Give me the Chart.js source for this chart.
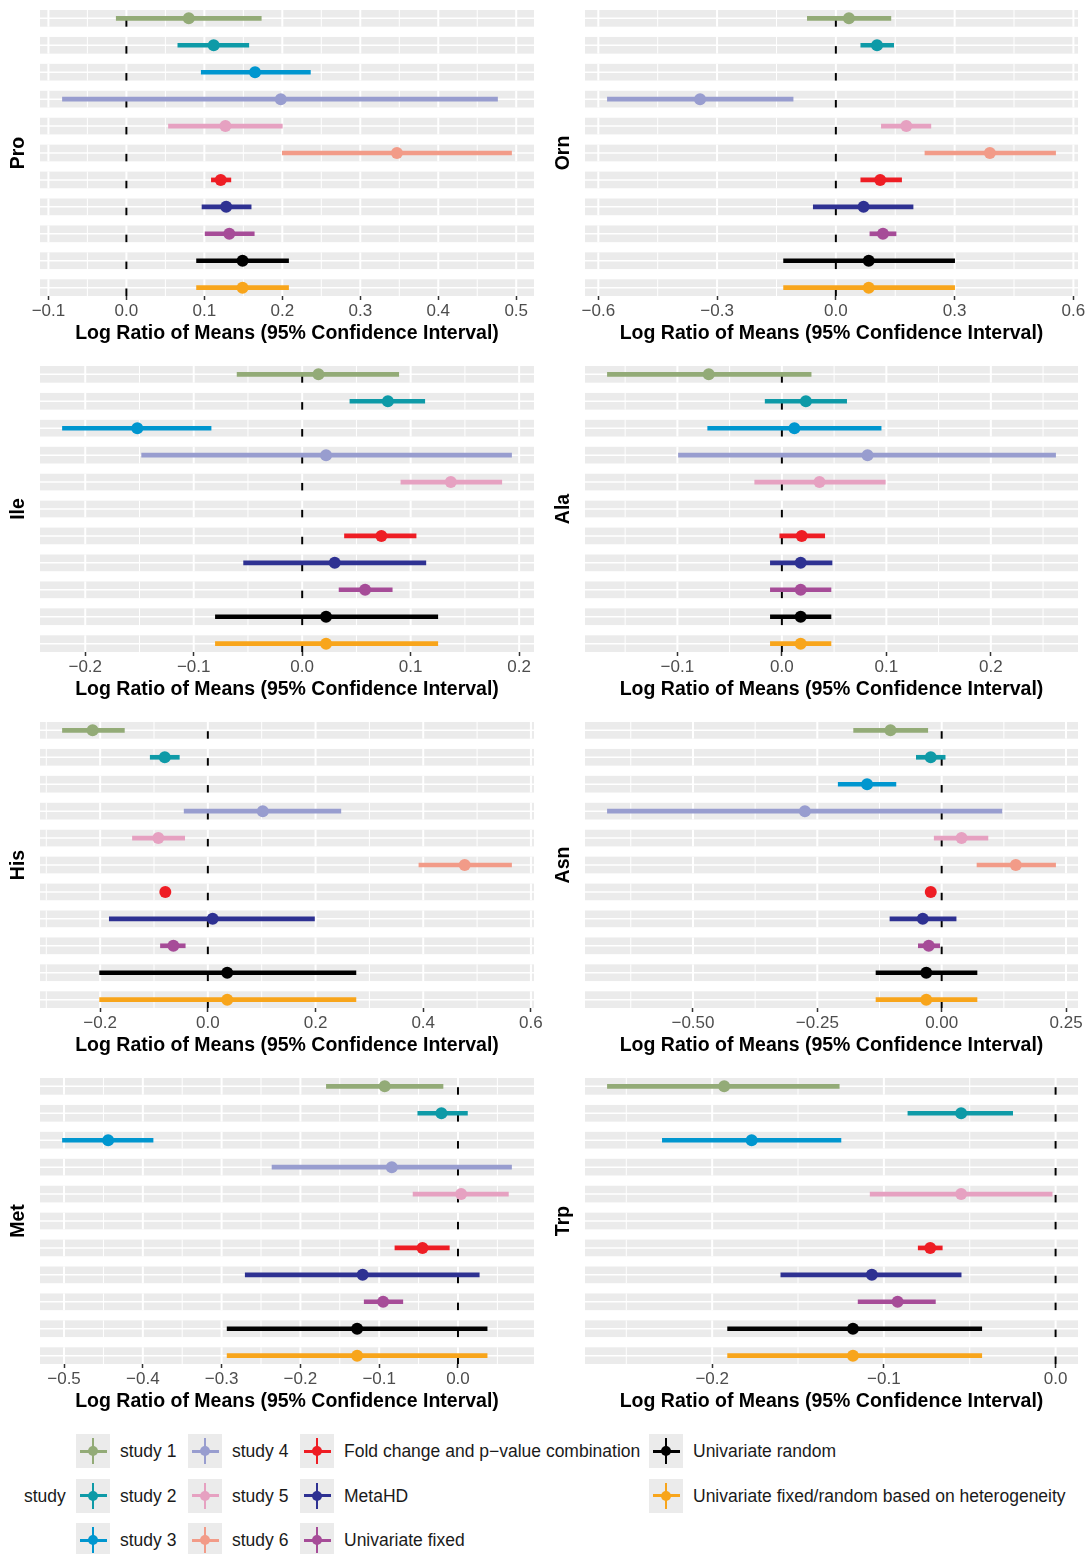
<!DOCTYPE html>
<html>
<head>
<meta charset="utf-8">
<script src="https://cdn.jsdelivr.net/npm/chart.js@4.4.1/dist/chart.umd.min.js"></script>
<style>
  body { margin: 0; background: #fff; font-family: 'Liberation Sans', Arial, sans-serif; }
  #page { position: relative; width: 1089px; height: 1554px; overflow: hidden; }
  canvas { position: absolute; }
  .lg-text { position: absolute; font-size: 17.5px; line-height: 20px; color: #1a1a1a; white-space: nowrap; }
  .lg-key { position: absolute; width: 34px; height: 34px; background: #EBEBEB; }
  .lg-key div { position: absolute; }
  .lg-key .v { left: 16px; top: 4px; width: 2px; height: 26px; }
  .lg-key .h { left: 3.5px; top: 15.5px; width: 27px; height: 3px; }
  .lg-key .d { left: 12px; top: 12px; width: 10px; height: 10px; border-radius: 50%; }
</style>
</head>
<body>
<div id="page"></div>
<script>
const methods = ['study 1', 'study 2', 'study 3', 'study 4', 'study 5', 'study 6',
  'Fold change and p\u2212value combination', 'MetaHD', 'Univariate fixed',
  'Univariate random', 'Univariate fixed/random based on heterogeneity']
const colors = ['#93AB77', '#0E9AA7', '#0096CF', '#989DCF', '#E6A1C1', '#F29B88',
  '#EE1D24', '#2E3192', '#A64C98', '#000000', '#F8A51B']

// Pro
const proLow  = [-0.013, 0.066, 0.096, -0.082, 0.054, 0.200, 0.109, 0.097, 0.101, 0.090, 0.090]
const proEst  = [0.080, 0.112, 0.165, 0.198, 0.127, 0.347, 0.121, 0.128, 0.132, 0.149, 0.149]
const proHigh = [0.173, 0.157, 0.236, 0.476, 0.200, 0.494, 0.134, 0.160, 0.164, 0.208, 0.208]
const proTicks = [-0.1, 0, 0.1, 0.2, 0.3, 0.4, 0.5]
const proLabels = ['\u22120.1', '0.0', '0.1', '0.2', '0.3', '0.4', '0.5']

// Orn
const ornLow  = [-0.072, 0.063, null, -0.577, 0.115, 0.225, 0.063, -0.057, 0.086, -0.132, -0.132]
const ornEst  = [0.033, 0.104, null, -0.343, 0.178, 0.389, 0.112, 0.070, 0.119, 0.083, 0.083]
const ornHigh = [0.139, 0.146, null, -0.108, 0.240, 0.555, 0.166, 0.195, 0.152, 0.300, 0.300]
const ornTicks = [-0.6, -0.3, 0, 0.3, 0.6]
const ornLabels = ['\u22120.6', '\u22120.3', '0.0', '0.3', '0.6']

// Ile
const ileLow  = [-0.060, 0.044, -0.221, -0.148, 0.091, null, 0.039, -0.054, 0.034, -0.080, -0.080]
const ileEst  = [0.015, 0.079, -0.152, 0.022, 0.137, null, 0.073, 0.030, 0.058, 0.022, 0.022]
const ileHigh = [0.089, 0.113, -0.084, 0.193, 0.184, null, 0.105, 0.114, 0.083, 0.125, 0.125]
const ileTicks = [-0.2, -0.1, 0, 0.1, 0.2]
const ileLabels = ['\u22120.2', '\u22120.1', '0.0', '0.1', '0.2']

// Ala
const alaLow  = [-0.167, -0.016, -0.071, -0.099, -0.026, null, -0.002, -0.011, -0.011, -0.011, -0.011]
const alaEst  = [-0.070, 0.023, 0.012, 0.082, 0.036, null, 0.019, 0.018, 0.018, 0.018, 0.018]
const alaHigh = [0.028, 0.062, 0.095, 0.262, 0.099, null, 0.041, 0.048, 0.047, 0.047, 0.047]
const alaTicks = [-0.1, 0, 0.1, 0.2]
const alaLabels = ['\u22120.1', '0.0', '0.1', '0.2']

// His
const hisLow  = [-0.270, -0.107, null, -0.044, -0.140, 0.392, null, -0.183, -0.088, -0.201, -0.201]
const hisEst  = [-0.214, -0.080, null, 0.102, -0.092, 0.477, -0.079, 0.009, -0.064, 0.036, 0.036]
const hisHigh = [-0.155, -0.053, null, 0.247, -0.043, 0.564, null, 0.198, -0.042, 0.275, 0.275]
const hisTicks = [-0.2, 0, 0.2, 0.4, 0.6]
const hisLabels = ['\u22120.2', '0.0', '0.2', '0.4', '0.6']

// Asn
const asnLow  = [-0.177, -0.051, -0.208, -0.672, -0.015, 0.071, null, -0.104, -0.047, -0.132, -0.132]
const asnEst  = [-0.103, -0.022, -0.150, -0.275, 0.040, 0.149, -0.022, -0.038, -0.026, -0.031, -0.031]
const asnHigh = [-0.028, 0.007, -0.092, 0.121, 0.093, 0.229, null, 0.029, -0.004, 0.071, 0.071]
const asnTicks = [-0.5, -0.25, 0, 0.25]
const asnLabels = ['\u22120.50', '\u22120.25', '0.00', '0.25']

// Met
const metLow  = [-0.167, -0.051, -0.502, -0.236, -0.057, null, -0.080, -0.270, -0.119, -0.293, -0.293]
const metEst  = [-0.093, -0.021, -0.444, -0.084, 0.004, null, -0.045, -0.121, -0.095, -0.128, -0.128]
const metHigh = [-0.019, 0.012, -0.387, 0.068, 0.064, null, -0.011, 0.027, -0.070, 0.037, 0.037]
const metTicks = [-0.5, -0.4, -0.3, -0.2, -0.1, 0]
const metLabels = ['\u22120.5', '\u22120.4', '\u22120.3', '\u22120.2', '\u22120.1', '0.0']

// Trp
const trpLow  = [-0.261, -0.086, -0.229, null, -0.108, null, -0.080, -0.160, -0.115, -0.191, -0.191]
const trpEst  = [-0.193, -0.055, -0.177, null, -0.055, null, -0.073, -0.107, -0.092, -0.118, -0.118]
const trpHigh = [-0.126, -0.025, -0.125, null, -0.002, null, -0.066, -0.055, -0.070, -0.043, -0.043]
const trpTicks = [-0.2, -0.1, 0]
const trpLabels = ['\u22120.2', '\u22120.1', '0.0']

const panels = [
  {name: 'Pro', low: proLow, est: proEst, high: proHigh, ticks: proTicks, labels: proLabels},
  {name: 'Orn', low: ornLow, est: ornEst, high: ornHigh, ticks: ornTicks, labels: ornLabels},
  {name: 'Ile', low: ileLow, est: ileEst, high: ileHigh, ticks: ileTicks, labels: ileLabels},
  {name: 'Ala', low: alaLow, est: alaEst, high: alaHigh, ticks: alaTicks, labels: alaLabels},
  {name: 'His', low: hisLow, est: hisEst, high: hisHigh, ticks: hisTicks, labels: hisLabels},
  {name: 'Asn', low: asnLow, est: asnEst, high: asnHigh, ticks: asnTicks, labels: asnLabels},
  {name: 'Met', low: metLow, est: metEst, high: metHigh, ticks: metTicks, labels: metLabels},
  {name: 'Trp', low: trpLow, est: trpEst, high: trpHigh, ticks: trpTicks, labels: trpLabels}
]

const FONT = "'Liberation Sans', Arial, Helvetica, sans-serif"
const STRIP = 0.31   // half height of one grey row band, in row units
const PANEL_H = 356
Chart.defaults.font.family = FONT

// ggplot style: 5% expansion around the data and the zero line
function xRange(p) {
  const vals = [0]
  p.low.concat(p.est, p.high).forEach(v => { if (v !== null) vals.push(v) })
  const lo = Math.min(...vals), hi = Math.max(...vals)
  const pad = (hi - lo) * 0.05
  return [lo - pad, hi + pad]
}

function vline(ctx, x, top, bot) {
  ctx.beginPath()
  ctx.moveTo(x, top)
  ctx.lineTo(x, bot)
  ctx.stroke()
}

// grey band per row, white grid inside it, dashed line at zero
const rowBands = {
  id: 'rowBands',
  beforeDatasetsDraw(chart, args, opts) {
    const {ctx, chartArea: area, scales: {x, y}} = chart
    const major = opts.ticks
    const step = major[1] - major[0]
    const minor = []
    for (let k = -1; k < major.length; k++) {
      const v = major[0] + (k + 0.5) * step
      if (v >= x.min && v <= x.max) minor.push(v)
    }
    const x0 = x.getPixelForValue(0)
    ctx.save()
    for (let r = 1; r <= methods.length; r++) {
      const top = y.getPixelForValue(r - STRIP)
      const bot = y.getPixelForValue(r + STRIP)
      const mid = y.getPixelForValue(r)
      ctx.fillStyle = '#EBEBEB'
      ctx.fillRect(area.left, top, area.right - area.left, bot - top)
      ctx.strokeStyle = '#FFFFFF'
      ctx.lineWidth = 1
      minor.forEach(v => vline(ctx, x.getPixelForValue(v), top, bot))
      ctx.lineWidth = 2
      major.forEach(v => vline(ctx, x.getPixelForValue(v), top, bot))
      ctx.lineWidth = 1.5
      ctx.beginPath()
      ctx.moveTo(area.left, mid)
      ctx.lineTo(area.right, mid)
      ctx.stroke()
      ctx.strokeStyle = '#000000'
      ctx.lineWidth = 2
      ctx.setLineDash([7.5, 10])
      ctx.beginPath()
      ctx.moveTo(x0, bot)
      ctx.lineTo(x0, top)
      ctx.stroke()
      ctx.setLineDash([])
    }
    ctx.restore()
  }
}

const page = document.getElementById('page')

panels.forEach((p, k) => {
  const col = k % 2
  const row = Math.floor(k / 2)
  const canvas = document.createElement('canvas')
  canvas.width = col ? 544 : 545
  canvas.height = PANEL_H
  canvas.style.left = (col ? 545 : 0) + 'px'
  canvas.style.top = (row * PANEL_H) + 'px'
  page.appendChild(canvas)

  const [xmin, xmax] = xRange(p)
  const bars = [], barColors = [], dots = [], dotColors = []
  methods.forEach((m, i) => {
    if (p.low[i] !== null) {
      bars.push({x: [p.low[i], p.high[i]], y: i + 1})
      barColors.push(colors[i])
    }
    if (p.est[i] !== null) {
      dots.push({x: p.est[i], y: i + 1})
      dotColors.push(colors[i])
    }
  })

  new Chart(canvas, {
    type: 'bar',
    data: {
      datasets: [
        {type: 'bar', data: bars, backgroundColor: barColors, barThickness: 4, borderWidth: 0, order: 2},
        {type: 'scatter', data: dots, pointRadius: 6, pointBorderWidth: 0,
          pointBackgroundColor: dotColors, pointBorderColor: dotColors, order: 1}
      ]
    },
    options: {
      responsive: false,
      animation: false,
      events: [],
      indexAxis: 'y',
      layout: {padding: {top: 10, right: 11, bottom: 0, left: 0}},
      plugins: {
        legend: {display: false},
        tooltip: {enabled: false},
        rowBands: {ticks: p.ticks}
      },
      scales: {
        x: {
          type: 'linear',
          min: xmin,
          max: xmax,
          offset: false,
          afterBuildTicks: s => { s.ticks = p.ticks.map(v => ({value: v})) },
          afterFit: s => { s.height = 60; s.paddingLeft = 0; s.paddingRight = 0 },
          ticks: {
            autoSkip: false, maxRotation: 0, padding: 1,
            color: '#4D4D4D', font: {size: 17},
            callback: (v, i) => p.labels[i]
          },
          grid: {drawOnChartArea: false, drawTicks: true, tickLength: 4, tickColor: '#333333', tickWidth: 1.5},
          border: {display: false},
          title: {
            display: true, text: 'Log Ratio of Means (95% Confidence Interval)',
            color: '#000000', font: {size: 19.5, weight: 'bold'},
            padding: {top: 0, bottom: 11}
          }
        },
        y: {
          type: 'linear',
          reverse: true,
          offset: false,
          min: 1 - STRIP,
          max: methods.length + STRIP,
          afterFit: s => { s.width = 40; s.paddingTop = 0; s.paddingBottom = 0 },
          ticks: {display: false},
          grid: {display: false},
          border: {display: false},
          title: {
            display: true, text: p.name, color: '#000000',
            font: {size: 19.5, weight: 'bold'},
            padding: {top: 7, bottom: 0}
          }
        }
      }
    },
    plugins: [rowBands]
  })
})

// legend (ggplot guide: 3 rows, filled column by column)
const legendCols = [76, 188, 300, 649]
const legendRows = [1451, 1495.5, 1540]
const title = document.createElement('div')
title.className = 'lg-text'
title.textContent = 'study'
title.style.left = '24px'
title.style.top = (legendRows[1] - 10) + 'px'
page.appendChild(title)

methods.forEach((m, i) => {
  const cx = legendCols[Math.floor(i / 3)]
  const cy = legendRows[i % 3]
  const key = document.createElement('div')
  key.className = 'lg-key'
  key.style.left = cx + 'px'
  key.style.top = (cy - 17) + 'px'
  ;['v', 'h', 'd'].forEach(c => {
    const part = document.createElement('div')
    part.className = c
    part.style.background = colors[i]
    key.appendChild(part)
  })
  page.appendChild(key)
  const label = document.createElement('div')
  label.className = 'lg-text'
  label.textContent = m
  label.style.left = (cx + 44) + 'px'
  label.style.top = (cy - 10) + 'px'
  page.appendChild(label)
})
</script>
</body>
</html>
